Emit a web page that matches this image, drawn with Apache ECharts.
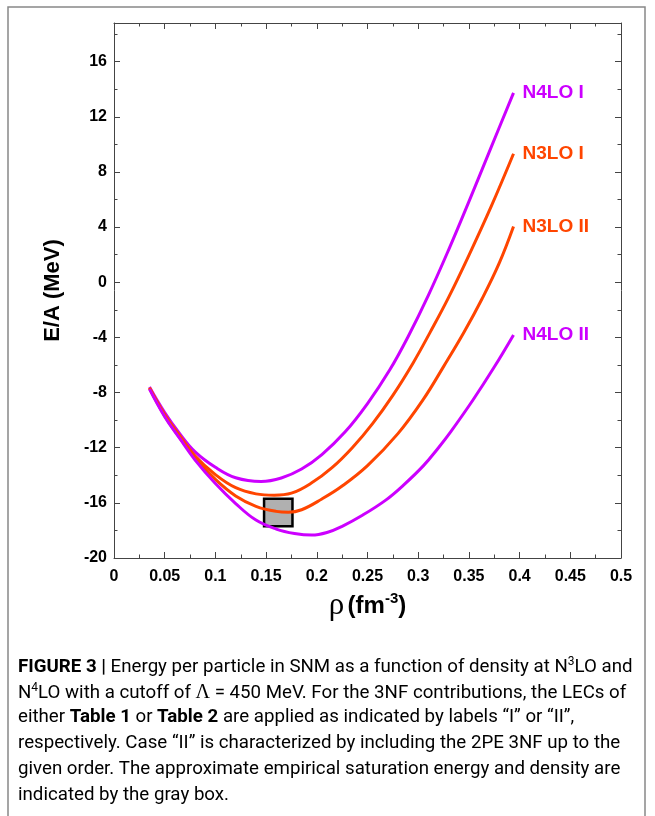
<!DOCTYPE html>
<html><head><meta charset="utf-8">
<script src="https://cdn.jsdelivr.net/npm/echarts@6/dist/echarts.min.js"></script>
<style>html,body{margin:0;padding:0;background:#fff}#c{width:655px;height:816px}</style>
</head><body><div id="c"></div>
<script>
// ---- data ----
const rho_N4LO_I = [0.035,0.05,0.065,0.08,0.10,0.12,0.145,0.165,0.185,0.205,0.228,0.25,0.272,0.29,0.31,0.33,0.35,0.372,0.394];
const E_N4LO_I   = [-7.6,-9.45,-11.0,-12.3,-13.42,-14.18,-14.45,-14.2,-13.55,-12.5,-10.85,-8.8,-6.35,-3.95,-0.95,2.35,5.85,9.8,13.73];

const rho_N3LO_I = [0.035,0.05,0.065,0.08,0.10,0.12,0.14,0.158,0.175,0.195,0.215,0.235,0.255,0.275,0.295,0.312,0.33,0.35,0.372,0.394];
const E_N3LO_I   = [-7.65,-9.6,-11.15,-12.6,-13.95,-14.9,-15.35,-15.45,-15.3,-14.55,-13.45,-12.0,-10.25,-8.2,-5.85,-3.6,-1.1,1.95,5.5,9.32];

const rho_N3LO_II = [0.035,0.05,0.065,0.08,0.10,0.12,0.14,0.16,0.172,0.185,0.205,0.225,0.25,0.28,0.305,0.325,0.345,0.363,0.38,0.394];
const E_N3LO_II   = [-7.7,-9.7,-11.3,-12.75,-14.3,-15.5,-16.25,-16.62,-16.68,-16.5,-15.72,-14.78,-13.3,-10.98,-8.5,-6.12,-3.65,-1.2,1.4,4.04];

const rho_N4LO_II = [0.035,0.05,0.065,0.08,0.10,0.12,0.14,0.16,0.178,0.195,0.21,0.225,0.245,0.268,0.285,0.305,0.32,0.332,0.354,0.375,0.394];
const E_N4LO_II   = [-7.75,-9.75,-11.35,-12.9,-14.6,-16.05,-17.25,-17.9,-18.22,-18.34,-18.15,-17.7,-16.9,-15.8,-14.75,-13.32,-12.0,-10.85,-8.54,-6.15,-3.82];

const seriesNames = ['N4LO I','N3LO I','N3LO II','N4LO II'];
const satRho = [0.148, 0.176];   // gray box density range
const satE   = [-17.7, -15.7];   // gray box energy range

const xTicks = {min:0, max:0.5, interval:0.05};
const yTicks = {min:-20, max:18.8, interval:4};

// ---- styles ----
const PURPLE = '#cc00ff', ORANGE = '#ff4500';
const AX = '#444';
const F = 'Liberation Sans, Arial, Helvetica, sans-serif';

function zip(a,b){ return a.map((v,i)=>[v,b[i]]); }

const chart = echarts.init(document.getElementById('c'), null, {renderer:'canvas'});

function xAx(pos, major){
  return {
    type:'value', position:pos, min:xTicks.min, max:xTicks.max, interval:xTicks.interval,
    axisLine:{show:true, onZero:false, lineStyle:{color:AX, width:1}},
    axisTick:{show:true, inside:true, length:6, lineStyle:{color:AX}},
    minorTick:{show:true, splitNumber:2, length:3.5, lineStyle:{color:AX}},
    splitLine:{show:false}, minorSplitLine:{show:false},
    axisLabel: major ? {show:true, margin:11, color:'#000', fontSize:16, fontWeight:'bold', fontFamily:F,
      formatter: v => String(Math.round(v*100)/100)} : {show:false}
  };
}
function yAx(pos, interval, len, labels, line){
  return {
    type:'value', position:pos, min:yTicks.min, max:yTicks.max, interval:interval,
    axisLine:{show:line, onZero:false, lineStyle:{color:AX, width:1}},
    axisTick:{show:true, inside:true, length:len, lineStyle:{color:AX}},
    splitLine:{show:false},
    axisLabel: labels ? {show:true, margin:7, color:'#000', fontSize:16, fontWeight:'bold', fontFamily:F,
      formatter: v => (Math.abs(v % 4) < 1e-9 ? String(v) : '')} : {show:false}
  };
}

const xAxes = [xAx('bottom', true), xAx('top', false)];
xAxes[0].name = '{r|ρ} {b|(fm}{s|-3}{b|)}';
xAxes[0].nameLocation = 'middle';
xAxes[0].nameGap = 33;
xAxes[0].nameTextStyle = {
  rich:{
    r:{fontFamily:'Liberation Serif, serif', fontSize:31, color:'#000', lineHeight:30},
    b:{fontFamily:F, fontSize:24, fontWeight:'bold', color:'#000', lineHeight:30},
    s:{fontFamily:F, fontSize:15, fontWeight:'bold', color:'#000', verticalAlign:'top', lineHeight:14}
  }
};

const yAxes = [
  yAx('left', 2, 3.5, false, true),
  yAx('left', 4, 6, true, false),
  yAx('right', 2, 3.5, false, true),
  yAx('right', 4, 6, false, false)
];
yAxes[1].name = 'E/A (MeV)';
yAxes[1].nameLocation = 'middle';
yAxes[1].nameGap = 50;
yAxes[1].nameTextStyle = {fontFamily:F, fontSize:22, fontWeight:'bold', color:'#000'};

const dataSets = [
  [rho_N4LO_I, E_N4LO_I, PURPLE],
  [rho_N3LO_I, E_N3LO_I, ORANGE],
  [rho_N3LO_II, E_N3LO_II, ORANGE],
  [rho_N4LO_II, E_N4LO_II, PURPLE]
];

const series = dataSets.map((d,i)=>({
  name: seriesNames[i], type:'line', xAxisIndex:0, yAxisIndex:0,
  data: zip(d[0], d[1]), smooth:0.4, showSymbol:false, symbol:'none',
  lineStyle:{color:d[2], width:3}, itemStyle:{color:d[2]}, z:5,
  endLabel:{show:true, formatter:'{a}', distance:9, color:d[2], fontSize:19, fontWeight:'bold', fontFamily:F},
  emphasis:{disabled:true}, animation:false
}));

series.unshift({
  type:'line', xAxisIndex:0, yAxisIndex:0, data:[], z:3, animation:false,
  markArea:{silent:true, itemStyle:{color:'#b0b0b0', borderColor:'#000', borderWidth:2.5},
    data:[[{xAxis:satRho[0], yAxis:satE[0]}, {xAxis:satRho[1], yAxis:satE[1]}]]}
});

const CF = 'Roboto, sans-serif';
const capRich = {
  n:{fontFamily:CF, fontSize:18.7, color:'#333', lineHeight:22},
  b:{fontFamily:CF, fontSize:18.7, fontWeight:'bold', color:'#333', lineHeight:22},
  s:{fontFamily:CF, fontSize:12, color:'#333', verticalAlign:'top', lineHeight:12},
  m:{fontFamily:'Liberation Serif, serif', fontSize:20, color:'#333', lineHeight:22}
};
const capLines = [
  '{b|FIGURE 3 |}{n| Energy per particle in SNM as a function of density at N}{s|3}{n|LO and}',
  '{n|N}{s|4}{n|LO with a cutoff of }{m|Λ}{n| = 450 MeV. For the 3NF contributions, the LECs of}',
  '{n|either }{b|Table 1}{n| or }{b|Table 2}{n| are applied as indicated by labels “I” or “II”,}',
  '{n|respectively. Case “II” is characterized by including the 2PE 3NF up to the}',
  '{n|given order. The approximate empirical saturation energy and density are}',
  '{n|indicated by the gray box.}'
];
const graphics = [
  {type:'rect', shape:{x:8, y:7, width:637, height:840}, style:{fill:'none', stroke:'#888', lineWidth:1.5}, z:-1, silent:true}
];
capLines.forEach((t,i)=>{
  graphics.push({type:'text', left:18, top:656 + i*26, silent:true,
    style:{text:t, rich:capRich}});
});

chart.setOption({
  animation:false,
  backgroundColor:'#fff',
  grid:{left:114, top:23, right:34, bottom:258, containLabel:false},
  xAxis:xAxes, yAxis:yAxes, series:series, graphic:graphics
});
</script></body></html>
